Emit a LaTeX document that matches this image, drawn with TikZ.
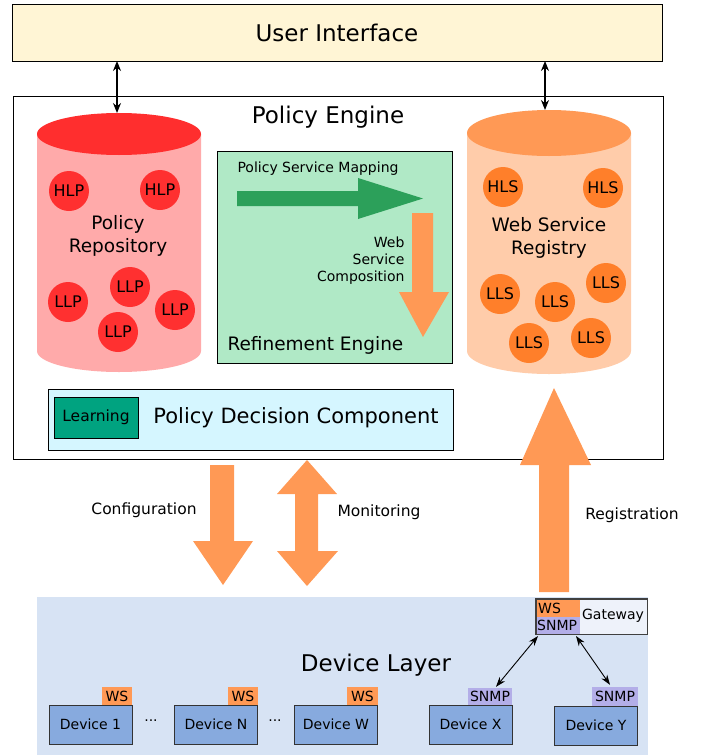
\documentclass[tikz,border=0pt]{standalone}
\usepackage{fontspec}
\setmainfont{DejaVu Sans}
\usetikzlibrary{arrows.meta}
\definecolor{uifill}{HTML}{FFF5D5}
\definecolor{redtop}{HTML}{FF2E2E}
\definecolor{redbody}{HTML}{FFAAAA}
\definecolor{redball}{HTML}{FF3030}
\definecolor{ortop}{HTML}{FF9955}
\definecolor{orbody}{HTML}{FFCCAA}
\definecolor{orball}{HTML}{FF7F2A}
\definecolor{refill}{HTML}{B0E9C6}
\definecolor{garrow}{HTML}{2CA05A}
\definecolor{pdcfill}{HTML}{D5F6FF}
\definecolor{learnfill}{HTML}{00A380}
\definecolor{dlfill}{HTML}{D7E3F4}
\definecolor{devfill}{HTML}{87AADE}
\definecolor{snmpfill}{HTML}{B3AEE8}
\definecolor{gwfill}{HTML}{EEF2FA}
\newcommand\fsz[1]{\fontsize{#1}{#1}\selectfont}
\tikzset{
  box/.style={draw=black, line width=0.9pt, inner sep=0pt, outer sep=0pt},
  ball/.style={circle, inner sep=0pt, minimum size=40pt, font=\fsz{16}},
  devbox/.style={draw=black!80, line width=0.9pt, fill=devfill, inner sep=0pt, minimum width=83pt, minimum height=39pt, font=\fsz{14}},
  tag/.style={inner sep=0pt, minimum height=18pt, font=\fsz{14}},
  dbl/.style={{Stealth[length=10pt,width=8pt]}-{Stealth[length=10pt,width=8pt]}, line width=1.4pt},
  thin dbl/.style={{Stealth[length=10pt,width=7pt]}-{Stealth[length=10pt,width=7pt]}, line width=0.9pt},
}
\begin{document}
\begin{tikzpicture}[x=1pt,y=-1pt]
\useasboundingbox (0,0) rectangle (708,755);
% User interface
\node[box, fill=uifill, minimum width=650pt, minimum height=57pt, font=\fsz{23}] (ui) at (337,32.5) {User Interface};
% Policy engine
\node[box, fill=white, minimum width=650pt, minimum height=363pt] (pe) at (338,277.5) {};
\node[font=\fsz{23}] (petitle) at (328,117) {Policy Engine};
% Policy repository cylinder
\fill[redbody] (37,134) -- (37,351) arc[start angle=180, end angle=0, x radius=82, y radius=21] -- (201,134) -- cycle;
\fill[redtop] (119,134) ellipse[x radius=82, y radius=21];
\coordinate (prtop) at (117,113);
\node[font=\fsz{18.5}, align=center] (prlabel) at (118,236) {Policy\\[4pt]Repository};
\node[ball, fill=redball] (hlp1) at (69,191) {HLP};
\node[ball, fill=redball] (hlp2) at (160,190) {HLP};
\node[ball, fill=redball] (llp1) at (68,302) {LLP};
\node[ball, fill=redball] (llp2) at (130,287) {LLP};
\node[ball, fill=redball] (llp3) at (175,310) {LLP};
\node[ball, fill=redball] (llp4) at (118,332) {LLP};
% Web service registry cylinder
\fill[orbody] (467,133) -- (467,351) arc[start angle=180, end angle=0, x radius=82, y radius=23] -- (631,133) -- cycle;
\fill[ortop] (549,133) ellipse[x radius=82, y radius=23];
\coordinate (wsrtop) at (545,110);
\node[font=\fsz{18.5}, align=center] (wsrlabel) at (549,238) {Web Service\\[4pt]Registry};
\node[ball, fill=orball] (hls1) at (503,187) {HLS};
\node[ball, fill=orball] (hls2) at (603,188) {HLS};
\node[ball, fill=orball] (lls1) at (500,294) {LLS};
\node[ball, fill=orball] (lls2) at (555,302) {LLS};
\node[ball, fill=orball] (lls3) at (606,283) {LLS};
\node[ball, fill=orball] (lls4) at (529,343) {LLS};
\node[ball, fill=orball] (lls5) at (591,338) {LLS};
% arrows UI <-> cylinders
\draw[dbl] (prtop |- ui.south) -- (prtop);
\draw[dbl] (wsrtop |- ui.south) -- (wsrtop);
% Refinement engine
\node[box, fill=refill, minimum width=235pt, minimum height=212pt] (re) at (334.5,257) {};
\node[font=\fsz{18.5}, anchor=west] (retitle) at (224,345) {Refinement Engine};
\node[font=\fsz{14}] (psm) at (318,169) {Policy Service Mapping};
\fill[garrow] (237,191) -- (358,191) -- (358,178) -- (423,198.5) -- (358,219) -- (358,206) -- (237,206) -- cycle;
\fill[ortop] (412,213) -- (433,213) -- (433,292) -- (449,292) -- (423,337) -- (399,292) -- (412,292) -- cycle;
\node[font=\fsz{14}, align=right, anchor=east] (wsc) at (408,261) {Web\\[3pt]Service\\[3pt]Composition};
% Policy decision component
\node[box, fill=pdcfill, minimum width=405pt, minimum height=61pt] (pdc) at (250.5,419.5) {};
\node[font=\fsz{21}] (pdclabel) at (296,418) {Policy Decision Component};
\node[box, fill=learnfill, minimum width=84pt, minimum height=41pt, font=\fsz{15.5}] (learn) at (96,417.5) {Learning};
% big arrows
\fill[ortop] (210,465) -- (234,465) -- (234,541) -- (253,541) -- (223,585) -- (193,541) -- (210,541) -- cycle;
\fill[ortop] (307,460) -- (337,494) -- (318,494) -- (318,551) -- (338,551) -- (307,586) -- (277,551) -- (295,551) -- (295,494) -- (277,494) -- cycle;
\fill[ortop] (554,388) -- (591,465) -- (569,465) -- (569,592) -- (539,592) -- (539,465) -- (520,465) -- cycle;
\node[font=\fsz{15.5}] (conf) at (144,510) {Configuration};
\node[font=\fsz{15.5}] (mon) at (379,512) {Monitoring};
\node[font=\fsz{15.5}] (reg) at (632,515) {Registration};
% Device layer
\fill[dlfill] (37,597) rectangle (648,755);
\node[font=\fsz{23}] (dl) at (376,665) {Device Layer};
\node[devbox] (d1) at (90.5,724.5) {Device 1};
\node[devbox] (dn) at (216,724.5) {Device N};
\node[devbox] (dw) at (336,724.5) {Device W};
\node[devbox] (dx) at (470.5,724.5) {Device X};
\node[devbox] (dy) at (596,725.5) {Device Y};
\node[tag, fill=ortop, minimum width=30pt] (ws1) at (117,696) {WS};
\node[tag, fill=ortop, minimum width=30pt] (wsn) at (243,696) {WS};
\node[tag, fill=ortop, minimum width=31pt] (wsw) at (362.5,696) {WS};
\node[tag, fill=snmpfill, minimum width=44pt, minimum height=17pt] (snx) at (490,696.5) {SNMP};
\node[tag, fill=snmpfill, minimum width=46pt, minimum height=19pt] (sny) at (615,696.5) {SNMP};
\node[font=\fsz{14}] (dots1) at (151,721) {...};
\node[font=\fsz{14}] (dots2) at (275,721) {...};
% Gateway
\node[draw=black!75, line width=0.9pt, fill=gwfill, inner sep=0pt, minimum width=111pt, minimum height=35pt] (gw) at (591.5,616.5) {};
\fill[ortop] (536.5,599.5) rectangle (580,617);
\fill[snmpfill] (536.5,617) rectangle (580,633.5);
\draw[black!75, line width=0.9pt] (gw.north west) rectangle (gw.south east);
\node[font=\fsz{14}, anchor=west, inner sep=0pt] (gws) at (538,608) {WS};
\node[font=\fsz{14}, anchor=west, inner sep=0pt] (gwsnmp) at (537,625.5) {SNMP};
\node[font=\fsz{14}] (gwlabel) at (613,616) {Gateway};
\coordinate (gwa) at (538,636);
\coordinate (gwb) at (576,636);
\draw[thin dbl] (gwa) -- ([xshift=6pt,yshift=1pt]snx.north);
\draw[thin dbl] (gwb) -- ([xshift=-5pt,yshift=2pt]sny.north);
\end{tikzpicture}
\end{document}
